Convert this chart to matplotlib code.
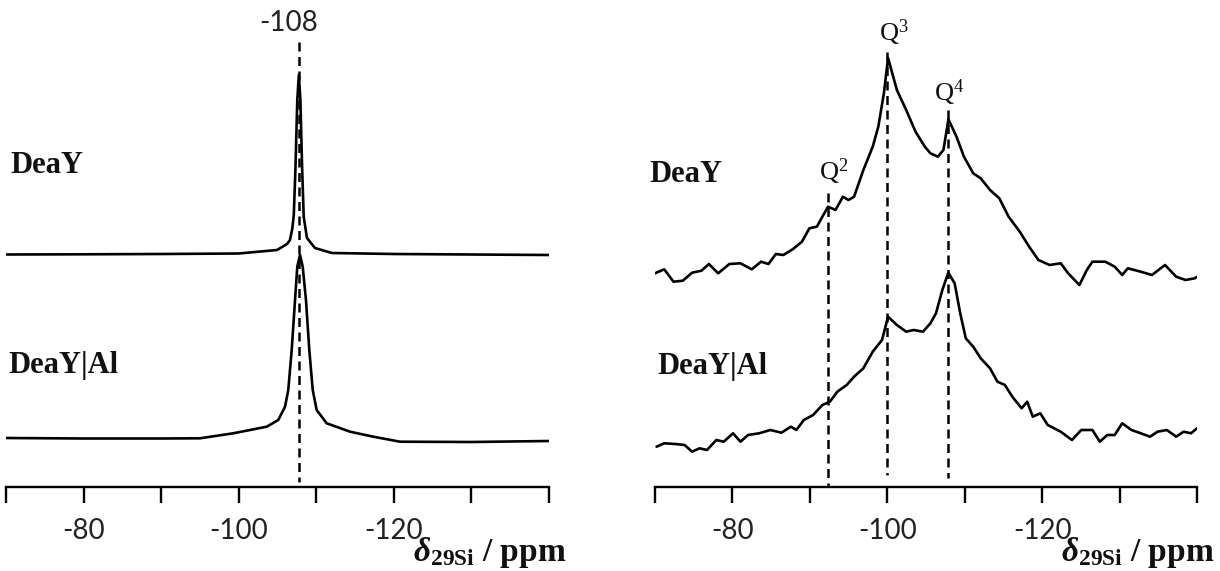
import matplotlib
matplotlib.use('Agg')
import matplotlib.pyplot as plt

plt.rcParams['mathtext.fontset'] = 'custom'
plt.rcParams['mathtext.rm'] = 'Liberation Serif'
plt.rcParams['mathtext.it'] = 'Liberation Serif:italic'
plt.rcParams['mathtext.bf'] = 'Liberation Serif:bold'
try:
    plt.rcParams['mathtext.bfit'] = 'Liberation Serif:italic:bold'
    DELTA = r'$\mathbfit{\delta}_{\mathbf{29Si}}$'
except KeyError:
    DELTA = r'$\mathbf{\delta}_{\mathbf{29Si}}$'

# ---------------- data ----------------
ticks_ppm = [-70, -80, -90, -100, -110, -120, -130, -140]
tick_labels = ['', '-80', '', '-100', '', '-120', '', '']
sample_names = ['DeaY', 'DeaY|Al']

# left panel (sharp peak at -108)
left_deay_ppm = [-70, -80, -90, -100, -104.94, -106.23, -106.61, -106.9, -107.1, -107.32,
                 -107.55, -107.75, -107.95, -108.17, -108.38, -108.8, -109.83, -112, -120, -130, -140]
left_deay_int = [232.5, 232.7, 233, 233.5, 237, 243, 247, 258, 272, 320,
                 387, 412, 387, 320, 270, 249, 239, 234, 233, 232.5, 232]

left_al_ppm = [-70, -80, -90, -95.01, -99.3, -103.61, -105.1, -105.97, -106.39, -106.83, -107.26,
               -107.55, -107.9, -108.25, -108.67, -109.1, -109.54, -110.05, -111.34, -114.35,
               -117.35, -120.79, -130, -140]
left_al_int = [49, 48.5, 48.5, 48.7, 53.7, 60.3, 67, 80.3, 97, 137, 187,
               220.3, 232, 220.3, 187, 137, 97, 77, 63.7, 55.3,
               50.3, 45.3, 45, 46]

# right panel
right_deay_ppm = [-70.0, -71.19, -72.39, -73.59, -74.79, -76.0, -76.96, -78.16, -79.6, -81.04,
                  -82.49, -83.69, -84.65, -85.61, -86.57, -87.78, -88.98, -89.94, -90.9, -91.62,
                  -92.35, -93.31, -94.27, -94.99, -95.71, -96.91, -98.12, -98.84, -99.56, -100.1,
                  -101.24, -102.44, -103.65, -104.85, -105.57, -106.53, -107.25, -107.9, -108.94,
                  -109.9, -111.1, -112.06, -113.27, -114.47, -115.67, -117.11, -118.32, -119.52,
                  -120.96, -122.4, -123.36, -124.81, -125.77, -126.49, -128.17, -129.37, -130.34,
                  -131.06, -132.74, -134.18, -135.87, -137.31, -138.51, -139.71, -140.0]
right_deay_int = [213.7, 217.7, 205.3, 206.3, 214.3, 216.3, 223, 213.7, 223, 223.7,
                  217.7, 225.3, 223, 233, 232, 237.7, 245.3, 258.7, 260.3, 270.3,
                  280.3, 277, 290.3, 287, 290.3, 317, 340.3, 360.3, 393.7, 429,
                  397, 377, 355.3, 340.3, 333.7, 330.3, 337, 367.7, 350.3,
                  330.3, 313.7, 308.7, 297, 288.7, 270.3, 255.3, 240.3, 227,
                  222, 223.7, 213.7, 202, 217, 225.3, 225.3, 220.3, 212,
                  218.7, 215.3, 212, 222, 210.3, 207, 208.7, 210.3]

right_al_ppm = [-70.2, -71.19, -72.63, -73.83, -74.79, -75.75, -76.72, -77.92, -78.88, -80.08,
                -81.04, -82.01, -83.45, -84.89, -86.33, -87.54, -88.26, -89.22, -90.42, -91.62,
                -92.59, -93.55, -94.75, -95.71, -96.91, -98.12, -99.32, -100.1, -101.24, -102.44,
                -103.41, -104.61, -105.57, -106.29, -107.11, -107.88, -108.7, -109.42, -110.14,
                -111.1, -112.06, -113.27, -114.23, -115.19, -116.15, -117.35, -118.07, -118.79,
                -119.76, -120.72, -122.4, -123.85, -125.05, -126.49, -127.45, -128.41, -129.37,
                -130.34, -131.54, -132.74, -133.94, -134.9, -136.1, -137.31, -138.27, -139.23, -140.0]
right_al_int = [40.3, 43.7, 43, 42, 35.3, 38.7, 37, 47, 45.3, 53.7,
                45.3, 52, 53.7, 57, 54.3, 60.3, 57, 67, 72, 82,
                85.3, 95.3, 102, 110.3, 118.7, 135.3, 147, 170.3, 162, 155.3,
                157, 155.3, 163.7, 173.7, 197, 214.3, 203.7, 173.7, 148.7,
                140.3, 128.7, 118.7, 105.3, 102, 90.3, 78.7, 85.3, 70.3,
                73.7, 62, 55.3, 47, 57, 57, 45.3, 52, 52,
                63.7, 57, 53.7, 50.3, 55.3, 57, 50.3, 55.3, 53.7, 58.7]

left_ref_ppm = -107.8
left_ref_label = '-108'
q_names = [r'$\mathrm{Q}^{2}$', r'$\mathrm{Q}^{3}$', r'$\mathrm{Q}^{4}$']
q_ppm = [-92.3, -100.0, -107.9]

# ---------------- figure ----------------
W, H = 1220, 571
fig = plt.figure(figsize=(W / 100, H / 100), dpi=100)

def fx(px):
    return px / W

def fy(py):
    return 1 - py / H

AX_BOTTOM = 487
ax_l = fig.add_axes([fx(6), fy(AX_BOTTOM), fx(549 - 6), AX_BOTTOM / H])
ax_r = fig.add_axes([fx(655), fy(AX_BOTTOM), fx(1197 - 655), AX_BOTTOM / H])

LW = 1.9
for ax in (ax_l, ax_r):
    ax.set_xlim(-70, -140)
    ax.set_ylim(0, AX_BOTTOM)
    for s in ('left', 'top', 'right'):
        ax.spines[s].set_visible(False)
    ax.spines['bottom'].set_linewidth(1.7)
    ax.set_yticks([])
    ax.set_xticks(ticks_ppm)
    ax.set_xticklabels(tick_labels, family='Lato', fontsize=20, color='#222222')
    ax.tick_params(axis='x', direction='out', length=11.5, width=1.7, pad=11)
    ax.patch.set_alpha(0)

dash = (3.6, 2.2)
line_kw = dict(color='black', lw=LW, solid_joinstyle='round', solid_capstyle='round')

# left panel
ax_l.plot(left_deay_ppm, left_deay_int, **line_kw)
ax_l.plot(left_al_ppm, left_al_int, **line_kw)
ax_l.plot([left_ref_ppm, left_ref_ppm], [AX_BOTTOM - 42, AX_BOTTOM - 482], color='black',
          lw=1.8, dashes=dash)
fig.text(fx(289), fy(31), left_ref_label, family='Lato', fontsize=20, color='#222222',
         ha='center', va='baseline')

# right panel
ax_r.plot(right_deay_ppm, right_deay_int, **line_kw)
ax_r.plot(right_al_ppm, right_al_int, **line_kw)
q_tops = [AX_BOTTOM - 193, AX_BOTTOM - 52, AX_BOTTOM - 110]
q_bottoms = [AX_BOTTOM - 487, AX_BOTTOM - 475, AX_BOTTOM - 478]
for p, t, b in zip(q_ppm, q_tops, q_bottoms):
    ax_r.plot([p, p], [t, b], color='black', lw=1.8, dashes=dash)

q_label_x = [834, 894, 949]
q_label_y = [180, 41, 101]
for name, x, y in zip(q_names, q_label_x, q_label_y):
    fig.text(fx(x), fy(y), name, fontsize=19, ha='center', va='baseline', color='#111111')

# sample labels
name_font = dict(family='Liberation Serif', fontweight='bold', fontsize=22, color='#111111',
                 ha='left', va='baseline')
fig.text(fx(10), fy(173), sample_names[0], **name_font)
fig.text(fx(8), fy(373), sample_names[1], **name_font)
fig.text(fx(649), fy(182), sample_names[0], **name_font)
fig.text(fx(657), fy(374), sample_names[1], **name_font)

# axis titles
xlab = DELTA + ' / ppm'
for x0 in (413, 1061):
    fig.text(fx(x0), fy(561), xlab, family='Liberation Serif', fontweight='bold',
             fontsize=24, color='#111111', ha='left', va='baseline')

fig.savefig('out.png', dpi=100)
